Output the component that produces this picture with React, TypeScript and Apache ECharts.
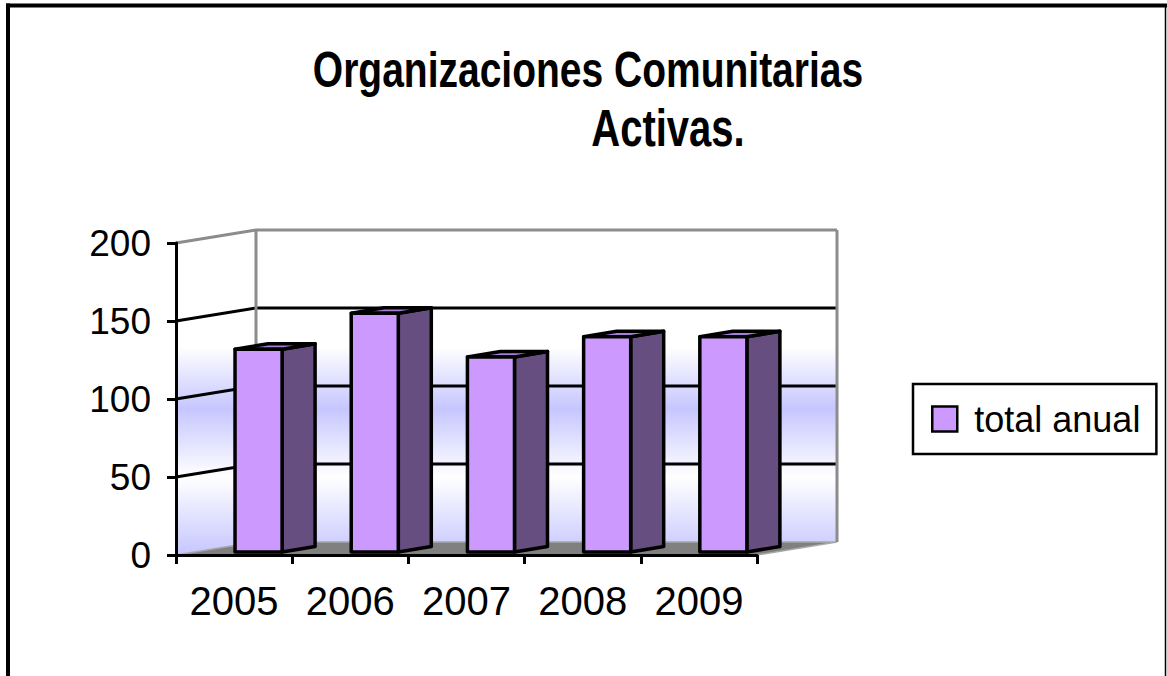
import React, { useEffect, useRef } from "react";
import * as echarts from "echarts";

const years = ["2005", "2006", "2007", "2008", "2009"];
const totals = [130, 153, 125, 138, 138];
const seriesName = "total anual";
const titleLines = ["Organizaciones Comunitarias", "Activas."];
const Y_MIN = 0;
const Y_MAX = 200;
const Y_STEP = 50;

const FONT = "'Liberation Sans', Arial, Helvetica, sans-serif";
const DEPTH: [number, number] = [80, -13];
const FRONT_COL = "#CC99FF";
const SIDE_COL = "#664E80";
const TOP_COL = "#A67FD6";
const LAV = "#C6C6FF";

export default function App() {
  const ref = useRef<HTMLDivElement>(null);
  useEffect(() => {
    if (!ref.current) return;
    const chart = echarts.init(ref.current, undefined, { renderer: "svg" });

    const gridVals: number[] = [];
    for (let v = Y_MIN + Y_STEP; v <= Y_MAX; v += Y_STEP) gridVals.push(v);

    const wallRender = (params: any, api: any) => {
      const cs = params.coordSys;
      const gx = cs.x;
      const gw = cs.width;
      const yv = (v: number) => api.coord([0, v])[1];
      const [dx, dy] = DEPTH;
      const y0 = yv(Y_MIN);
      const yTop = yv(Y_MAX);
      const mkGrad = () =>
        new echarts.graphic.LinearGradient(
          0,
          yTop + dy,
          0,
          y0,
          [
            { offset: 0, color: "#FFFFFF" },
            { offset: 0.36, color: "#FFFFFF" },
            { offset: 0.55, color: LAV },
            { offset: 0.76, color: "#FFFFFF" },
            { offset: 1, color: LAV },
          ],
          true
        );
      const children: any[] = [
        {
          type: "polygon",
          shape: { points: [[gx, y0], [gx, yTop], [gx + dx, yTop + dy], [gx + dx, y0 + dy]] },
          style: { fill: mkGrad(), stroke: null },
        },
        {
          type: "rect",
          shape: { x: gx + dx, y: yTop + dy, width: gw, height: y0 - yTop },
          style: { fill: mkGrad(), stroke: null },
        },
        {
          type: "polygon",
          shape: { points: [[gx, y0], [gx + gw, y0], [gx + gw + dx, y0 + dy], [gx + dx, y0 + dy]] },
          style: { fill: "#808080", stroke: "#A8A8A8", lineWidth: 1.5 },
        },
      ];
      gridVals.forEach((v) => {
        const y = yv(v);
        const isTop = v === Y_MAX;
        children.push({
          type: "polyline",
          shape: { points: [[gx, y], [gx + dx, y + dy], [gx + gw + dx, y + dy]] },
          style: { stroke: isTop ? "#8C8C8C" : "#000", lineWidth: 3, fill: null },
        });
      });
      children.push({
        type: "line",
        shape: { x1: gx + dx, y1: yTop + dy, x2: gx + dx, y2: y0 + dy },
        style: { stroke: "#8C8C8C", lineWidth: 3 },
      });
      children.push({
        type: "line",
        shape: { x1: gx + gw + dx, y1: yTop + dy, x2: gx + gw + dx, y2: y0 + dy },
        style: { stroke: "#8C8C8C", lineWidth: 3 },
      });
      return { type: "group", children };
    };

    const barRender = (params: any, api: any) => {
      const i = api.value(0);
      const v = api.value(1);
      const [cx, yt0] = api.coord([i, v]);
      const yb0 = api.coord([i, 0])[1];
      const bw = api.size([1, 0])[0];
      const L = cx - bw / 2 + bw * 0.508;
      const W = bw * 0.405;
      const fy = -3;
      const sdx = 33;
      const sdy = -5.5;
      const yt = yt0 + fy;
      const yb = yb0 + fy;
      const st = { stroke: "#000", lineWidth: 3.5, lineJoin: "round" };
      return {
        type: "group",
        children: [
          {
            type: "polygon",
            shape: { points: [[L + W, yb], [L + W, yt], [L + W + sdx, yt + sdy], [L + W + sdx, yb + sdy]] },
            style: { fill: SIDE_COL, ...st },
          },
          {
            type: "polygon",
            shape: { points: [[L, yt], [L + W, yt], [L + W + sdx, yt + sdy], [L + sdx, yt + sdy]] },
            style: { fill: TOP_COL, ...st },
          },
          {
            type: "rect",
            shape: { x: L, y: yt, width: W, height: yb - yt },
            style: { fill: FRONT_COL, ...st },
          },
        ],
      };
    };

    chart.setOption({
      animation: false,
      backgroundColor: "#fff",
      grid: { left: 176, top: 243, width: 581, height: 312, containLabel: false },
      xAxis: {
        type: "category",
        data: years,
        boundaryGap: true,
        axisLine: { show: true, lineStyle: { color: "#000", width: 3 } },
        axisTick: { show: true, length: 9, lineStyle: { color: "#000", width: 3 } },
        axisLabel: { fontSize: 40, color: "#000", fontFamily: FONT, margin: 26 },
        splitLine: { show: false },
        z: 10,
      },
      yAxis: {
        type: "value",
        min: Y_MIN,
        max: Y_MAX,
        interval: Y_STEP,
        axisLine: { show: true, lineStyle: { color: "#000", width: 3 } },
        axisTick: { show: true, length: 9, lineStyle: { color: "#000", width: 3 } },
        axisLabel: { fontSize: 37, color: "#000", fontFamily: FONT, margin: 25 },
        splitLine: { show: false },
        z: 10,
      },
      legend: {
        data: [seriesName],
        left: 913,
        top: 384,
        orient: "vertical",
        padding: [17, 16, 17, 18],
        borderColor: "#000",
        borderWidth: 2.5,
        itemWidth: 25,
        itemHeight: 25,
        icon: "rect",
        itemStyle: { borderColor: "#000", borderWidth: 2.5 },
        textStyle: { fontSize: 36, color: "#000", fontFamily: FONT, padding: [0, 0, 0, 12] },
        selectedMode: false,
      },
      graphic: [
        {
          type: "text",
          x: 588,
          y: 70,
          scaleY: 1.3,
          style: {
            text: titleLines[0],
            fontSize: 39,
            fontWeight: "bold",
            fontFamily: FONT,
            fill: "#000",
            textAlign: "center",
            textVerticalAlign: "middle",
          },
        },
        {
          type: "text",
          x: 668,
          y: 128,
          scaleY: 1.3,
          style: {
            text: titleLines[1],
            fontSize: 40,
            fontWeight: "bold",
            fontFamily: FONT,
            fill: "#000",
            textAlign: "center",
            textVerticalAlign: "middle",
          },
        },
        { type: "line", shape: { x1: 8, y1: 3.5, x2: 8, y2: 676 }, style: { stroke: "#000", lineWidth: 4 } },
        { type: "line", shape: { x1: 6, y1: 5.5, x2: 1167, y2: 5.5 }, style: { stroke: "#000", lineWidth: 4 } },
        { type: "line", shape: { x1: 1165.5, y1: 4, x2: 1165.5, y2: 676 }, style: { stroke: "#000", lineWidth: 1.5 } },
      ],
      series: [
        {
          type: "custom",
          name: "walls",
          coordinateSystem: "cartesian2d",
          renderItem: wallRender,
          data: [[0, 0]],
          z: 1,
          silent: true,
        },
        {
          type: "custom",
          name: seriesName,
          coordinateSystem: "cartesian2d",
          renderItem: barRender,
          encode: { x: 0, y: 1 },
          itemStyle: { color: FRONT_COL },
          data: totals.map((v, i) => [i, v]),
          z: 5,
        },
      ],
    });
    return () => chart.dispose();
  }, []);
  return (
    <div
      ref={ref}
      style={{ position: "absolute", left: 0, top: 0, width: 1167, height: 676 }}
    />
  );
}
